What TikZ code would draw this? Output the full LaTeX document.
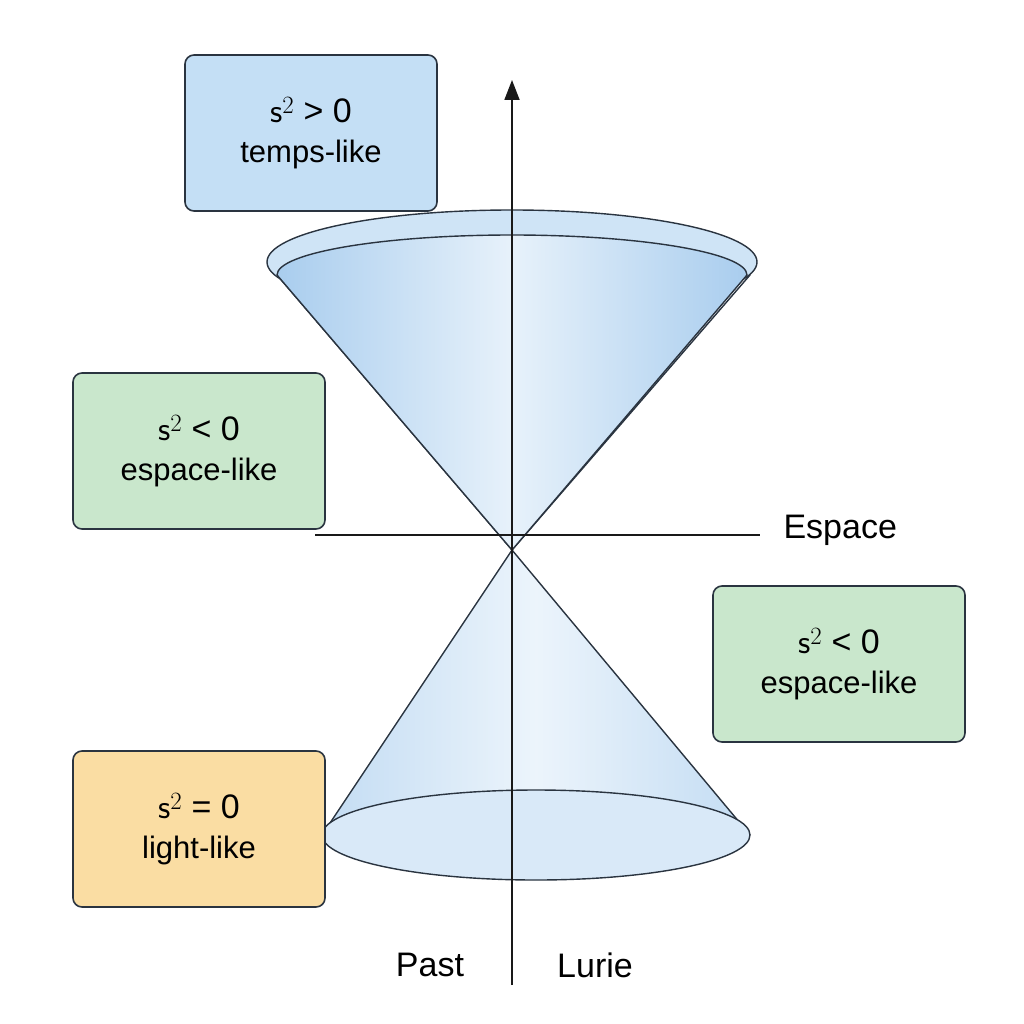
\documentclass[tikz,border=0pt]{standalone}
\usepackage{fontspec}
\setmainfont{Liberation Sans}
\usetikzlibrary{arrows.meta}
\definecolor{bluebox}{HTML}{C4DFF5}
\definecolor{greenbox}{HTML}{C9E7CC}
\definecolor{orangebox}{HTML}{FADDA3}
\definecolor{conefill}{HTML}{CFE4F6}
\definecolor{conedark}{HTML}{A9CDEE}
\definecolor{edge}{HTML}{2A3440}
\tikzset{
  lbl/.style={draw=edge, line width=1.6pt, rounded corners=9pt, minimum width=252pt, minimum height=156pt, align=center, font=\fontsize{34}{44}\selectfont},
  cone/.style={draw=edge, line width=1.4pt, line join=round},
  ax/.style={draw=black!90, line width=1.8pt}
}
\begin{document}
\begin{tikzpicture}[x=1pt,y=-1pt]
\useasboundingbox (0,0) rectangle (1024,1024);
% bottom cone
\coordinate (v) at (512,550);
\fill[left color=conedark!70, right color=conedark!70, middle color=conefill!40] (v) -- (322,835) arc[start angle=180,end angle=360,x radius=214,y radius=45] -- cycle;
\draw[cone] (322,835) -- (v) -- (750,835);
\draw[cone, fill=conefill!80] (536,835) ellipse[x radius=214, y radius=45];
% top cone
\fill[left color=conedark, right color=conedark, middle color=conefill!50] (v) -- (277,272) arc[start angle=190,end angle=350,x radius=240,y radius=52] -- cycle;
\draw[cone] (277,275) -- (v) -- (750,275);
\draw[cone, fill=conefill] (512,262) ellipse[x radius=245, y radius=52];
\fill[left color=conedark, right color=conedark, middle color=conefill!50] (v) -- (277,275) arc[start angle=180,end angle=360,x radius=235,y radius=40] -- cycle;
\draw[cone] (277,275) arc[start angle=180,end angle=360,x radius=235,y radius=40];
\draw[cone] (277,275) -- (v) -- (747,275);
% axes
\coordinate (tb) at (512,985);
\coordinate (tt) at (512,80);
\coordinate (hl) at (315,535);
\coordinate (hr) at (760,535);
\draw[ax, -{Triangle[length=20pt,width=15pt]}] (tb) -- (tt);
\draw[ax] (hl) -- (hr);
\node[font=\fontsize{34}{40}\selectfont, anchor=west] (esp) at (780,530) {Espace};
\node[font=\fontsize{34}{40}\selectfont] (past) at (430,965) {Past};
\node[font=\fontsize{34}{40}\selectfont] (lurie) at (595,965) {Lurie};
% labels
\node[lbl, fill=bluebox] (b1) at (311,133) {$\mathsf{s}^2$ > 0\\[-4pt]{\fontsize{31}{36}\selectfont temps-like}};
\node[lbl, fill=greenbox] (b2) at (199,451) {$\mathsf{s}^2$ < 0\\[-4pt]{\fontsize{31}{36}\selectfont espace-like}};
\node[lbl, fill=greenbox] (b3) at (839,664) {$\mathsf{s}^2$ < 0\\[-4pt]{\fontsize{31}{36}\selectfont espace-like}};
\node[lbl, fill=orangebox] (b4) at (199,829) {$\mathsf{s}^2$ = 0\\[-4pt]{\fontsize{31}{36}\selectfont light-like}};
\end{tikzpicture}
\end{document}
